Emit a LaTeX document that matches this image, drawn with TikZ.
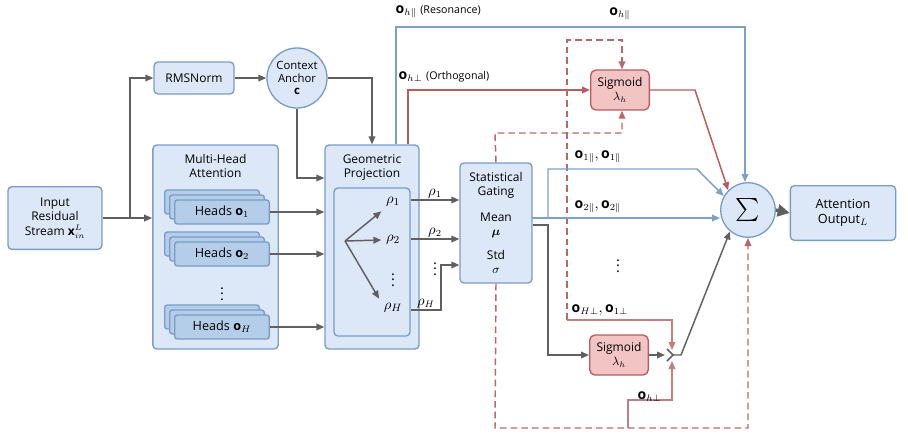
\documentclass[tikz,border=0pt]{standalone}
\usepackage{fontspec}
\setmainfont{Open Sans}
\usepackage{amsmath}
\usetikzlibrary{arrows.meta,positioning}
\definecolor{bfill}{HTML}{DCE8F7}
\definecolor{bdraw}{HTML}{7A9CC6}
\definecolor{hfill}{HTML}{B4CDE8}
\definecolor{rfill}{HTML}{F2C4C4}
\definecolor{rdraw}{HTML}{B85C5C}
\definecolor{rdash}{HTML}{B86868}
\definecolor{gline}{HTML}{606060}
\definecolor{bline}{HTML}{7D9FC8}
\begin{document}
\begin{tikzpicture}[x=0.75pt,y=-0.75pt,
  font=\fontsize{9}{10.5}\selectfont,
  box/.style={draw=bdraw,fill=bfill,rounded corners=3pt,line width=1pt,align=center,inner sep=1pt},
  hbox/.style={draw=bdraw,fill=hfill,rounded corners=2pt,line width=1pt,minimum width=71pt,minimum height=18pt},
  sbox/.style={draw=rdraw,fill=rfill,rounded corners=4pt,line width=1pt,align=center,minimum width=44pt,minimum height=30pt,inner sep=1pt},
  ga/.style={draw=gline,line width=1.1pt,-{Triangle[length=6pt,width=5pt]}},
  ba/.style={draw=bline,line width=1.1pt,-{Triangle[length=6pt,width=5pt]}},
  ra/.style={draw=rdraw,line width=1.1pt,-{Triangle[length=6pt,width=5pt]}},
  rd/.style={draw=rdash,line width=1.1pt,dash pattern=on 5pt off 3pt,-{Triangle[length=6pt,width=5pt]}},
  rl/.style={draw=rdash!85,line width=1.1pt,-{Triangle[length=6pt,width=5pt]}},
  lab/.style={inner sep=1pt,font=\fontsize{10.5}{12}\selectfont},
  ml/.style={font=\fontsize{11}{12}\selectfont}]
\useasboundingbox (0,0) rectangle (908,437);
% nodes
\node[box,minimum width=70.5pt,minimum height=47pt] (in) at (55,218) {Input\\Residual\\[1pt]Stream $\mathbf{x}_{in}^{L}$};
\node[box,minimum width=60pt,minimum height=24pt] (rms) at (194,78) {RMSNorm};
\node[box,circle,minimum size=45pt,inner sep=0pt,font=\fontsize{8.5}{9.5}\selectfont] (ctx) at (297,78) {Context\\Anchor\\$\mathbf{c}$};
\node[box,minimum width=94pt,minimum height=153pt] (mha) at (215.5,247) {};
\node[anchor=north,align=center] (mhat) at (215.5,150) {Multi-Head\\Attention};
\foreach \n/\y/\t in {h1/212/{Heads $\mathbf{o}_1$},h2/254/{Heads $\mathbf{o}_2$},hH/327/{Heads $\mathbf{o}_H$}}{
  \node[hbox] at (212,\y-10) {};
  \node[hbox] at (217,\y-5) {};
  \node[hbox,font=\fontsize{9.5}{11}\selectfont] (\n) at (222,\y) {\t};
}
\node[ml] (mdots) at (222,290) {$\vdots$};
\node[box,minimum width=70.5pt,minimum height=153pt] (gp) at (372,247) {};
\node[anchor=north,align=center] (gpt) at (372,150) {Geometric\\Projection};
\node[box,minimum width=57pt,minimum height=111pt] (gpi) at (372,262) {};
\coordinate (o) at (345,241);
\node[ml] (r1) at (393,202) {$\rho_1$};
\node[ml] (r2) at (393,240) {$\rho_2$};
\node[ml] (rd) at (393,276) {$\vdots$};
\node[ml] (rH) at (393,308) {$\rho_H$};
\node[box,minimum width=54pt,minimum height=90pt] (sg) at (496,223) {};
\node[align=center] (sgt) at (496,185) {Statistical\\Gating};
\node[align=center] (sgm) at (496,225) {Mean\\$\boldsymbol{\mu}$};
\node[align=center] (sgs) at (496,262) {Std\\$\sigma$};
\node[sbox] (sig1) at (620,90) {Sigmoid\\$\lambda_h$};
\node[sbox] (sig2) at (619,355) {Sigmoid\\$\lambda_h$};
\node[box,circle,minimum size=41pt,inner sep=0pt] (sum) at (748,210) {\LARGE$\sum$};
\node[box,minimum width=79pt,minimum height=41pt,font=\fontsize{9.5}{11}\selectfont\rmfamily] (out) at (843,213) {Attention\\Output$_L$};
% left connections
\coordinate (sp) at (130,218);
\draw[ga] (in.east) -- (mha.west|-sp);
\draw[ga] (sp) |- (rms.west);
\draw[ga] (rms) -- (ctx);
\draw[ga] (ctx.east) -| (gp.north);
\draw[ga] (ctx.south) |- (gp.west|-0,178);
\foreach \n in {h1,h2,hH}{\draw[ga] (\n.east) -- (gp.west|-\n);}
\draw[ga] (o) -- (r1.south west);
\draw[ga] (o) -- (r2.west);
\draw[ga] (o) -- (rH.north west);
\draw[ga] (gpi.east|-0,200) -- (sg.west|-0,200) node[lab,midway,above] {$\rho_1$};
\draw[ga] (gpi.east|-0,239) -- (sg.west|-0,239) node[lab,midway,above] {$\rho_2$};
\node[ml] at (435,265) {$\vdots$};
\draw[ga] (gpi.east|-0,310) -- (441,310) node[lab,midway,above] {$\rho_H$} -- (441,265) -- (sg.west|-0,265);
% top paths
\draw[ba] (gp.north-|396,0) -- (396,27) -- (745,27) -- (sum.north-|745,0);
\node[anchor=west,lab] at (394,12) {$\mathbf{o}_{h\parallel}$ \fontsize{8}{9}\selectfont(Resonance)};
\node[lab] at (620,14) {$\mathbf{o}_{h\parallel}$};
\draw[ra] (gp.north-|408,0) -- (408,90) -- (sig1.west);
\node[anchor=west,lab] at (397,77) {$\mathbf{o}_{h\perp}$ \fontsize{8}{9}\selectfont(Orthogonal)};
\draw[ra] (sig1.east) -- (695,90) -- (sum.north west);
% gating
\draw[rd] (sg.north) -- (495,133) -- (622,133) -- (sig1.south-|622,0);
\draw[rd] (567,320) -- (567,40) -- (622,40) -- (sig1.north-|622,0);
\draw[rd] (sg.south) -- (495,428) -- (748,428) -- (sum.south);
\draw[ba] (548,218) -- (548,169) -- (697,169) -- (sum.150);
\draw[ba] (532,218) -- (sum.west|-0,218);
\node[anchor=west,lab] at (573,157) {$\mathbf{o}_{1\parallel},\mathbf{o}_{1\parallel}$};
\node[anchor=west,lab] at (573,207) {$\mathbf{o}_{2\parallel},\mathbf{o}_{2\parallel}$};
\node[ml] at (618,262) {$\vdots$};
\draw[ga] (sg.east|-0,225) -- (548,225) -- (548,355) -- (sig2.west);
\draw[ga] (sig2.east) -- (665,355);
\draw[gline,line width=1.1pt] (667,349) -- (673,355) -- (667,361);
\draw[ga] (673,355) -- (681,355) -- (sum.230);
\draw[rl] (567,320) -- (672,320) -- (672,350);
\node[anchor=west,lab] at (570,310) {$\mathbf{o}_{H\perp},\mathbf{o}_{1\perp}$};
\draw[rl] (628,428) -- (628,400) -- (672,400) -- (672,361);
\node[anchor=west,lab] at (636,397) {$\mathbf{o}_{h\perp}$};
\draw[draw=gline,line width=2.5pt,-{Triangle[length=9pt,width=9pt]}] (sum.east) -- (out.west);
\end{tikzpicture}
\end{document}
